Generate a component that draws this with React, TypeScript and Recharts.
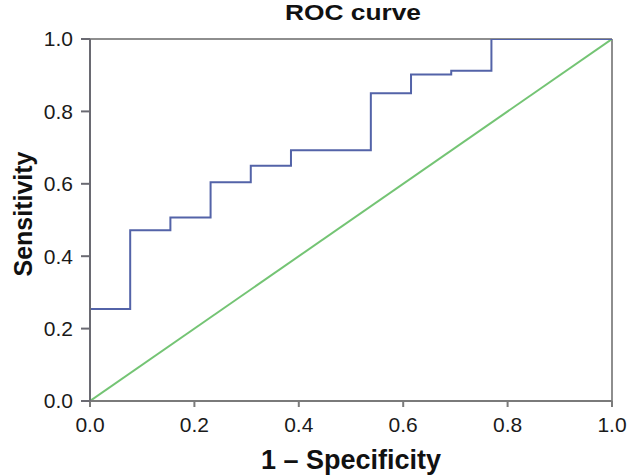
import React from "react";
import { LineChart, Line, XAxis, YAxis, ReferenceLine, Label } from "recharts";

const fpr = [0, 0, 0.077, 0.154, 0.231, 0.308, 0.385, 0.538, 0.615, 0.692, 0.769, 1.0];
const tpr = [0, 0.254, 0.472, 0.507, 0.604, 0.65, 0.693, 0.85, 0.902, 0.912, 1.0, 1.0];
const refX = [0, 1];
const refY = [0, 1];
const ticks = [0, 0.2, 0.4, 0.6, 0.8, 1.0];

const title = "ROC curve";
const xTitle = "1 – Specificity";
const yTitle = "Sensitivity";

const rocData = fpr.map((x, i) => ({ x, y: tpr[i] }));
const refData = refX.map((x, i) => ({ x, y: refY[i] }));

const FONT = "'Liberation Sans', Arial, Helvetica, sans-serif";

export default function App() {
  return (
    <div style={{ position: "absolute", left: 0, top: 0, width: 627, height: 476, background: "#fff" }}>
      <LineChart
        width={627}
        height={476}
        margin={{ top: 39, right: 15, bottom: 0, left: 0 }}
        style={{ fontFamily: FONT }}
      >
        <XAxis
          type="number"
          dataKey="x"
          domain={[0, 1]}
          ticks={ticks}
          tickFormatter={(v: number) => v.toFixed(1)}
          height={75}
          stroke="#7a7a7a"
          strokeWidth={2}
          tickSize={6}
          tickMargin={10}
          tick={{ fill: "#1a1a1a", fontSize: 21, fontFamily: FONT }}
          allowDataOverflow
        >
          <Label
            content={(props: any) => {
              const vb = props.viewBox;
              return (
                <text
                  x={vb.x + vb.width / 2}
                  y={vb.y + 68}
                  textAnchor="middle"
                  fontSize={27}
                  fontWeight="bold"
                  fontFamily={FONT}
                  fill="#111"
                >
                  {xTitle}
                </text>
              );
            }}
          />
        </XAxis>
        <YAxis
          type="number"
          dataKey="y"
          domain={[0, 1]}
          ticks={ticks}
          tickFormatter={(v: number) => v.toFixed(1)}
          width={90}
          stroke="#6a6a72"
          strokeWidth={2}
          tickSize={9}
          tickMargin={8}
          tick={{ fill: "#1a1a1a", fontSize: 21, fontFamily: FONT }}
          allowDataOverflow
        >
          <Label
            content={(props: any) => {
              const vb = props.viewBox;
              const cx = 32;
              const cy = vb.y + vb.height / 2 - 6;
              return (
                <text
                  x={cx}
                  y={cy}
                  transform={`rotate(-90 ${cx} ${cy})`}
                  textAnchor="middle"
                  fontSize={25}
                  fontWeight="bold"
                  fontFamily={FONT}
                  fill="#111"
                >
                  {yTitle}
                </text>
              );
            }}
          />
        </YAxis>
        <ReferenceLine y={1} stroke="#8e8e8e" strokeWidth={2} ifOverflow="visible" />
        <ReferenceLine x={1} stroke="#8e8e8e" strokeWidth={2} ifOverflow="visible" />
        <Line
          data={refData}
          dataKey="y"
          type="linear"
          stroke="#74c474"
          strokeWidth={2}
          dot={false}
          activeDot={false}
          isAnimationActive={false}
        />
        <Line
          data={rocData}
          dataKey="y"
          type="stepAfter"
          stroke="#5363a8"
          strokeWidth={2}
          dot={false}
          activeDot={false}
          isAnimationActive={false}
        />
      </LineChart>
      <svg
        width={627}
        height={40}
        style={{ position: "absolute", left: 0, top: 0, pointerEvents: "none" }}
      >
        <text
          x={353}
          y={19.8}
          textAnchor="middle"
          fontSize={21.5}
          fontWeight="bold"
          fontFamily={FONT}
          textLength={136}
          lengthAdjust="spacingAndGlyphs"
          fill="#111"
        >
          {title}
        </text>
      </svg>
    </div>
  );
}
